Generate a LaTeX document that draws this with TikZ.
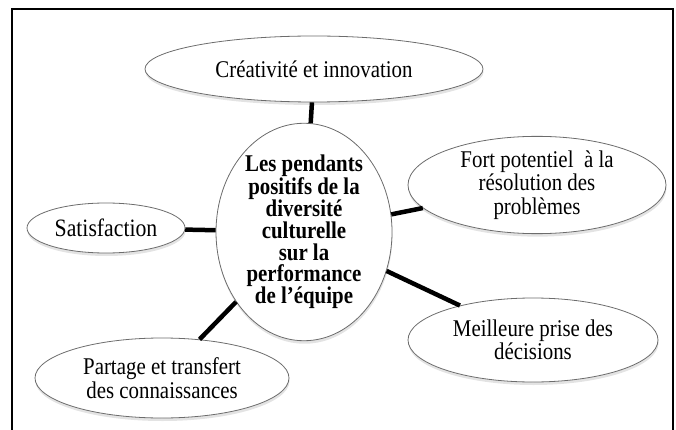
\documentclass[tikz,border=0pt]{standalone}
\usepackage{fontspec}
\setmainfont{Liberation Serif}[FakeStretch=0.87]
\usetikzlibrary{shapes,shadows,positioning}

\begin{document}
\begin{tikzpicture}[x=1pt,y=-1pt]
	\tikzstyle{every node}=[font=\fontsize{24}{23.5}\selectfont, align=center]
	\tikzstyle{bulle}=[ellipse, draw=gray!85!black, line width=0.8pt, fill=white, inner sep=0pt, drop shadow={opacity=0.22, shadow xshift=0.5pt, shadow yshift=-3pt}]
	\tikzstyle{lien}=[line width=4.5pt]
	\useasboundingbox (0,0) rectangle (676,430);
	% cadre ouvert en bas
	\draw [line width=2.5pt] (12,430) -- (12,9) -- (673,9) -- (673,430);
	\node [bulle, minimum width=176pt, minimum height=182pt, font=\fontsize{24}{21.8}\selectfont\bfseries] (centre) at (304,232) {Les pendants\\positifs de la\\diversité\\culturelle\\sur la\\performance\\de l’équipe};
	\node [bulle, minimum width=338pt, minimum height=66pt] (creativite) at (314,69) {Créativité et innovation};
	\node [bulle, minimum width=158pt, minimum height=50pt, font=\fontsize{25}{28}\selectfont] (satisfaction) at (106,228) {Satisfaction};
	\node [bulle, minimum width=258pt, minimum height=96pt] (potentiel) at (537,185) {Fort potentiel~ à la\\résolution des\\problèmes};
	\node [bulle, minimum width=250pt, minimum height=84pt] (decisions) at (533,340) {Meilleure prise des\\décisions};
	\node [bulle, minimum width=254pt, minimum height=80pt] (partage) at (162,378) {Partage et transfert\\des connaissances};
	% liens vers le centre
	\draw [lien] (centre) -- (creativite);
	\draw [lien] (centre) -- (satisfaction);
	\draw [lien] (centre) -- (potentiel);
	\draw [lien] (centre) -- (decisions);
	\draw [lien] (centre) -- (partage);
\end{tikzpicture}
\end{document}
